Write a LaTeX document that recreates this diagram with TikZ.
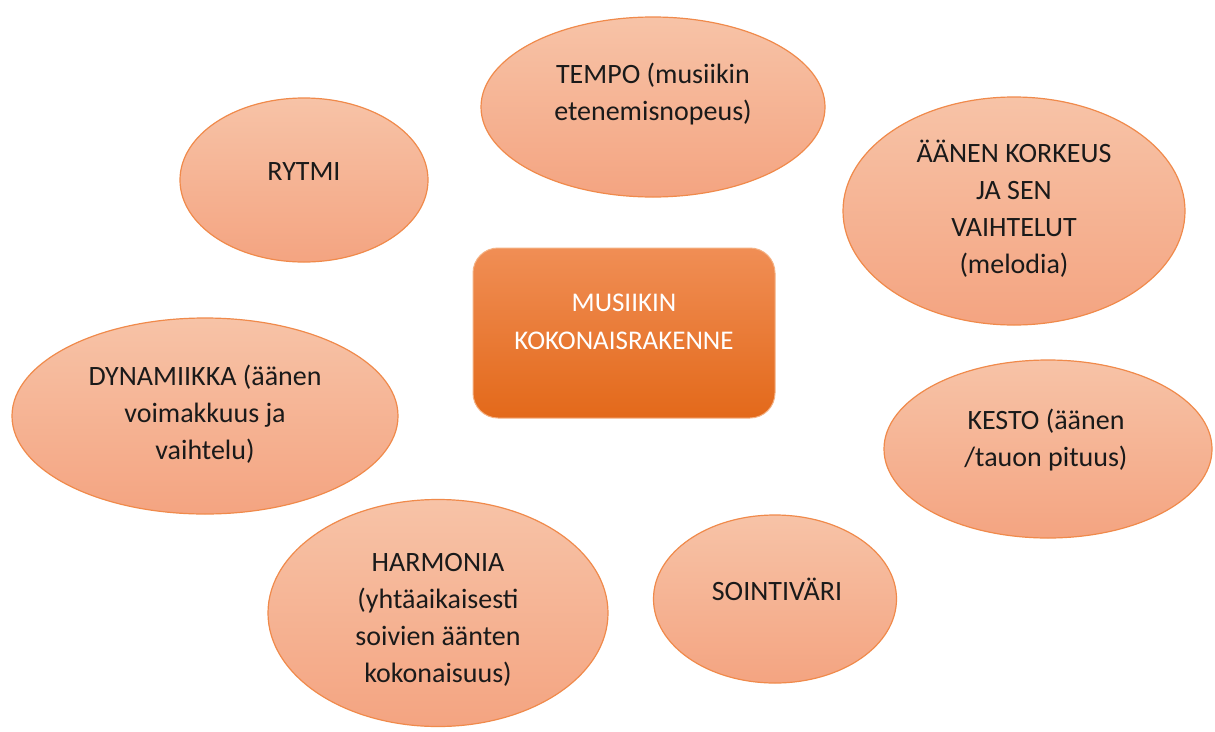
\documentclass[tikz,border=0pt]{standalone}
\usepackage{fontspec}
\setmainfont{Carlito}
\usetikzlibrary{shapes.geometric,shadings}
\definecolor{elltop}{HTML}{F7C3A7}
\definecolor{ellbot}{HTML}{F4A481}
\definecolor{ellborder}{HTML}{F08A4B}
\definecolor{boxtop}{HTML}{F08E55}
\definecolor{boxbot}{HTML}{E3691A}
\definecolor{boxborder}{HTML}{F4B183}
\definecolor{txt}{HTML}{1A1A1A}
\tikzset{
  bubble/.style={ellipse, draw=ellborder, line width=1.2pt, top color=elltop, bottom color=ellbot, inner sep=0pt},
  bubbletext/.style={align=center, text=txt, font=\fontsize{28}{37}\selectfont, inner sep=0pt},
  hub/.style={rounded corners=25pt, draw=boxborder, line width=1pt, top color=boxtop, bottom color=boxbot, inner sep=0pt},
  hubtext/.style={align=center, text=white, font=\fontsize{27}{38}\selectfont, inner sep=0pt}
}
\begin{document}
\begin{tikzpicture}[x=1pt,y=-1pt]
\useasboundingbox[fill=white] (0,0) rectangle (1215,731);
% bubbles
\node[bubble, minimum width=344pt, minimum height=180pt] (tempo) at (653,107) {};
\node[bubble, minimum width=248pt, minimum height=164pt] (rytmi) at (304,180) {};
\node[bubble, minimum width=342pt, minimum height=228pt] (korkeus) at (1014,211) {};
\node[bubble, minimum width=386pt, minimum height=196pt] (dyn) at (205,416) {};
\node[bubble, minimum width=328pt, minimum height=178pt] (kesto) at (1048,449) {};
\node[bubble, minimum width=243pt, minimum height=168pt] (sointi) at (775,599) {};
\node[bubble, minimum width=340pt, minimum height=227pt] (harm) at (438,613) {};
% hub
\node[hub, minimum width=302pt, minimum height=170pt] (hubbox) at (624,333) {};
% texts
\node[hubtext] (thub) at (624,322) {MUSIIKIN\\KOKONAISRAKENNE};
\node[bubbletext] (ttempo) at (653,94) {TEMPO (musiikin\\etenemisnopeus)};
\node[bubbletext] (trytmi) at (304,172) {RYTMI};
\node[bubbletext] (tkorkeus) at (1014,209) {ÄÄNEN KORKEUS\\JA SEN\\VAIHTELUT\\(melodia)};
\node[bubbletext] (tdyn) at (205,414) {DYNAMIIKKA (äänen\\voimakkuus ja\\vaihtelu)};
\node[bubbletext] (tkesto) at (1046,440) {KESTO (äänen\\/tauon pituus)};
\node[bubbletext] (tsointi) at (777,589) {SOINTIVÄRI};
\node[bubbletext] (tharm) at (438,620) {HARMONIA\\(yhtäaikaisesti\\soivien äänten\\kokonaisuus)};
\end{tikzpicture}
\end{document}
